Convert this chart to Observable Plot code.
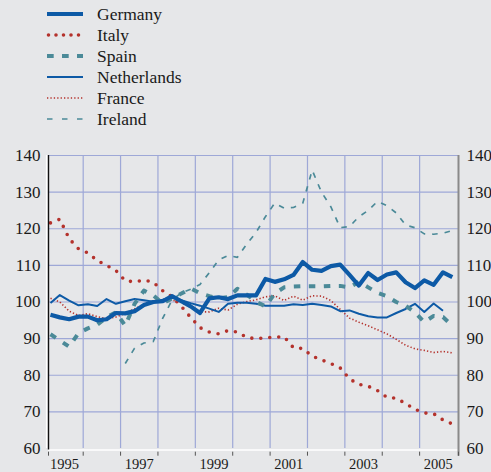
<!DOCTYPE html>
<html><head><meta charset="utf-8">
<script src="https://cdn.jsdelivr.net/npm/d3@7"></script>
<script src="https://cdn.jsdelivr.net/npm/@observablehq/plot@0.6"></script>
<style>
html,body{margin:0;padding:0;background:#e6e7e9;}
#wrap{position:relative;width:491px;height:472px;overflow:hidden;font-family:"Liberation Serif","Times New Roman",serif;color:#1a1a1a;}
#legend{position:absolute;left:0;top:0;width:491px;height:130px;}
.row{position:absolute;left:0;height:21px;width:300px;}
.row svg{position:absolute;left:47px;top:5.5px;overflow:visible;}
.row span{position:absolute;left:97px;top:0;font-size:17.5px;line-height:21px;white-space:nowrap;}
#chart{position:absolute;left:0;top:130px;}
</style></head><body>
<div id="wrap"><div id="legend"></div><div id="chart"></div></div>
<script>
// ---- data (quarterly index, 1995Q1 .. 2005Q4) ----
const countries = ["Germany", "Italy", "Spain", "Netherlands", "France", "Ireland"];
const germany = [96.5,95.8,95.3,96.0,96.0,95.0,95.3,97.0,96.9,97.5,99.2,100.0,100.2,101.6,100.2,98.8,97.0,101.0,101.3,100.8,101.8,101.8,101.8,106.3,105.5,106.2,107.4,110.9,108.8,108.5,109.8,110.2,107.4,104.5,107.9,106.0,107.5,108.1,105.4,103.8,105.9,104.7,108.1,106.8];
const italy = [121.6,122.6,117.3,114.5,113.4,111.3,110.0,108.6,105.8,105.5,106.0,105.4,103.1,101.5,98.8,95.8,93.0,91.8,91.3,92.2,91.8,90.3,90.0,90.2,90.4,90.5,87.5,87.3,85.2,84.2,83.2,82.0,79.0,77.5,77.0,75.8,74.0,73.7,72.3,70.7,69.7,69.5,67.8,66.7];
const spain = [91.2,89.5,87.8,91.5,92.8,93.8,95.8,97.2,93.5,99.5,103.1,101.8,99.6,101.0,102.3,103.7,102.4,101.6,101.0,101.3,103.6,102.0,100.1,98.8,102.3,104.0,104.2,104.3,104.3,104.3,104.4,104.4,104.0,105.5,104.0,102.5,101.6,100.0,99.0,97.2,94.5,96.2,95.9,93.5];
const netherlands = [99.7,101.9,100.4,99.1,99.4,98.9,100.8,99.5,100.2,100.8,100.5,100.1,100.6,101.4,100.5,99.7,99.0,98.2,97.3,99.5,99.8,99.8,99.5,99.0,99.0,99.0,99.4,99.2,99.5,99.2,98.8,97.5,97.7,96.8,96.1,95.8,95.8,97.0,98.1,99.5,97.3,99.6,97.6,null];
const france = [101.0,100.0,97.5,96.3,96.8,96.0,95.4,95.9,96.9,98.1,99.4,100.0,100.2,100.5,99.9,98.5,97.3,97.3,98.3,97.8,99.4,100.1,100.6,101.4,101.7,100.4,101.6,100.5,101.7,101.6,100.4,98.0,95.6,94.5,93.5,92.4,91.3,89.8,88.2,87.2,86.8,86.2,86.5,86.1];
const ireland = [null,null,null,null,null,null,null,null,83.2,87.4,88.8,89.2,95.5,100.5,102.5,103.5,104.8,108.0,111.5,112.7,112.2,115.8,119.0,123.3,127.0,125.6,125.8,127.0,136.0,130.0,126.0,120.3,120.6,123.3,125.0,127.5,126.3,124.3,121.0,120.3,118.6,118.5,118.8,119.5];
const yTicks = [60, 70, 80, 90, 100, 110, 120, 130, 140];
const yearBounds = [1996, 1997, 1998, 1999, 2000, 2001, 2002, 2003, 2004, 2005];
const yearLabels = [1995, 1997, 1999, 2001, 2003, 2005];

// ---- styles ----
const BLUE = "#0d5aa6", RED = "#b4322c", TEAL = "#4b8a98", GRID = "#9ea8d7";
const styles = {
  Germany:     {stroke: BLUE, strokeWidth: 4.2, dash: null, cap: "butt", legendDash: null},
  Italy:       {stroke: RED, strokeWidth: 3.6, dash: "0,9", cap: "round", legendDash: "0,7.5"},
  Spain:       {stroke: TEAL, strokeWidth: 4, dash: "6.5,8.5", cap: "butt", legendDash: "6.7,8.3"},
  Netherlands: {stroke: BLUE, strokeWidth: 2, dash: null, cap: "butt", legendDash: null},
  France:      {stroke: RED, strokeWidth: 1.6, dash: "1.3,2.1", cap: "butt", legendDash: "1.3,2.1"},
  Ireland:     {stroke: TEAL, strokeWidth: 1.7, dash: "5.5,7", cap: "butt", legendDash: "5.5,9.5"}
};
const seriesData = {Germany: germany, Italy: italy, Spain: spain, Netherlands: netherlands, France: france, Ireland: ireland};
const quarters = d3.range(44).map(i => 1995 + (i + 0.5) / 4);
const xDomain = [1995.072, 2006.04];

// ---- legend ----
const legend = document.getElementById("legend");
countries.forEach((c, k) => {
  const s = styles[c];
  const row = document.createElement("div");
  row.className = "row";
  row.style.top = (3.5 + 21 * k) + "px";
  const ns = "http://www.w3.org/2000/svg";
  const svg = document.createElementNS(ns, "svg");
  svg.setAttribute("width", 37); svg.setAttribute("height", 10);
  const ln = document.createElementNS(ns, "line");
  ln.setAttribute("x1", s.cap === "round" ? 1.5 : 0); ln.setAttribute("x2", 36);
  ln.setAttribute("y1", 5); ln.setAttribute("y2", 5);
  ln.setAttribute("stroke", s.stroke);
  ln.setAttribute("stroke-width", s.strokeWidth);
  ln.setAttribute("stroke-linecap", s.cap);
  if (s.legendDash) ln.setAttribute("stroke-dasharray", s.legendDash);
  svg.appendChild(ln);
  const sp = document.createElement("span");
  sp.textContent = c;
  row.appendChild(svg); row.appendChild(sp);
  legend.appendChild(row);
});

// ---- chart ----
const drawOrder = ["Ireland", "France", "Netherlands", "Spain", "Italy", "Germany"];
const lineMarks = drawOrder.map(c => {
  const s = styles[c];
  const rows = seriesData[c].map((v, i) => ({t: quarters[i], v})).filter(d => d.v != null);
  return Plot.line(rows, {
    x: "t", y: "v", stroke: s.stroke, strokeWidth: s.strokeWidth,
    strokeDasharray: s.dash || undefined, strokeLinecap: s.cap, strokeLinejoin: "round"
  });
});

const chart = Plot.plot({
  width: 491, height: 342,
  marginLeft: 48, marginRight: 33, marginTop: 25, marginBottom: 24,
  style: {background: "transparent", fontFamily: '"Liberation Serif","Times New Roman",serif', color: "#1a1a1a", overflow: "visible"},
  x: {domain: xDomain, axis: null},
  y: {domain: [60, 140], axis: null},
  marks: [
    Plot.ruleY(yTicks.filter(v => v > 60), {stroke: GRID, strokeWidth: 1.2}),
    Plot.ruleX(yearBounds, {stroke: GRID, strokeWidth: 1.2}),
    Plot.ruleY([60], {stroke: "#ffffff", strokeWidth: 1.6, dy: 1.5}),
    Plot.ruleX([xDomain[0]], {stroke: "#ffffff", strokeWidth: 1.6, dx: -1.8}),
    ...lineMarks,
    Plot.ruleX([xDomain[0]], {y1: 59.6, y2: 140, stroke: "#111111", strokeWidth: 1.4}),
    Plot.ruleX([xDomain[1]], {y1: 57.9, y2: 140, stroke: "#8a8a8a", strokeWidth: 2}),
    Plot.ruleX([xDomain[0], ...yearBounds, xDomain[1]], {y1: 59.0, y2: 57.9, stroke: "#555555", strokeWidth: 1}),
    Plot.axisY({anchor: "left", ticks: yTicks, tickSize: 0, tickPadding: 8, fontSize: 17, label: null}),
    Plot.axisY({anchor: "right", ticks: yTicks, tickSize: 0, tickPadding: 8, fontSize: 17, label: null}),
    Plot.axisX({ticks: yearLabels.map(y => y + 0.5), tickFormat: d => String(Math.floor(d)), tickSize: 0, tickPadding: 10, fontSize: 14.5, label: null})
  ]
});
document.getElementById("chart").appendChild(chart);
</script>
</body></html>
